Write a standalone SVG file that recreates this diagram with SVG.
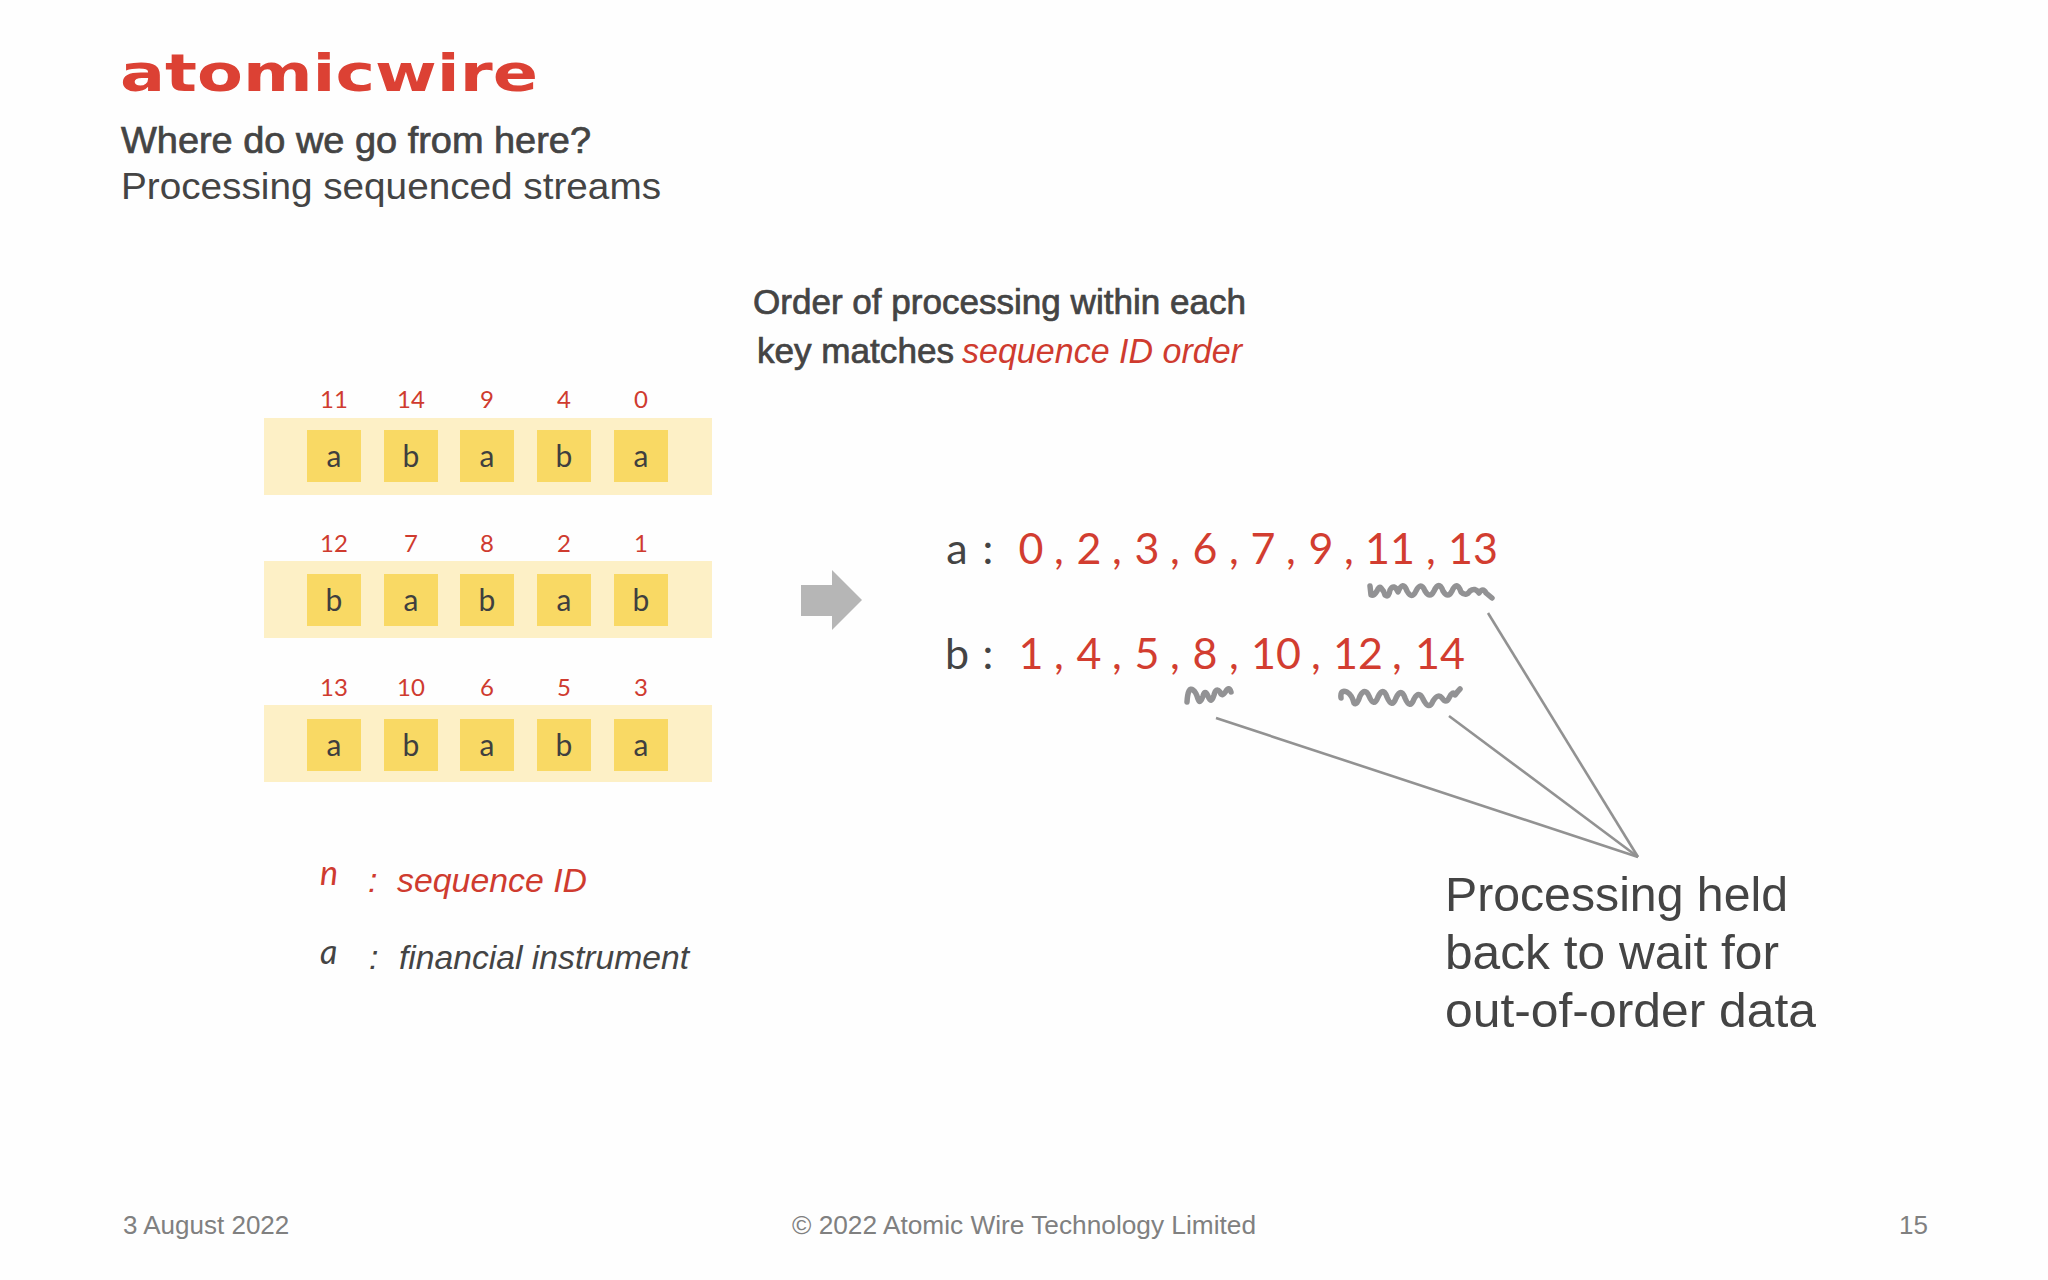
<svg xmlns="http://www.w3.org/2000/svg" width="2048" height="1280" viewBox="0 0 2048 1280">
<style>
.h{font-family:"Liberation Sans",Arial,sans-serif;fill:#444}
.c{font-family:Lato,"Open Sans",sans-serif}
.band{fill:#FDF0C6}
.sq{fill:#F9D964}
.id{font-size:24px;fill:#CF3B2F;text-anchor:middle}
.k{font-size:30px;fill:#3f3f3f;text-anchor:middle}
.seq{font-size:43px;fill:#D23D30;text-anchor:middle}
.lab{font-size:43px;fill:#444;text-anchor:middle}
.b{stroke:#444;stroke-width:.7px}
.it{font-style:italic}
.red{fill:#CF3B2F}
.foot{font-size:26px;fill:#808080}
.sq1{fill:none;stroke:#929294;stroke-width:5.5;stroke-linecap:round;stroke-linejoin:round}
.ln{fill:none;stroke:#929292;stroke-width:2.6}
</style>
<rect width="2048" height="1280" fill="#FEFEFE"/>
<g id="header">
<text x="120" y="91" font-family="'DejaVu Sans',sans-serif" font-weight="700" font-size="52" fill="#DC4134" textLength="418" lengthAdjust="spacingAndGlyphs">atomicwire</text>
<text class="h b" x="121" y="152.5" font-size="36.5" textLength="470" lengthAdjust="spacingAndGlyphs">Where do we go from here?</text>
<text class="h" x="121" y="199" font-size="36.5" textLength="540" lengthAdjust="spacingAndGlyphs">Processing sequenced streams</text>
</g>
<g id="order-note">
<text class="h b" x="753" y="314" font-size="34.5" textLength="493" lengthAdjust="spacingAndGlyphs">Order of processing within each</text>
<text class="h b" x="757" y="363" font-size="34.5" textLength="197" lengthAdjust="spacingAndGlyphs">key matches</text>
<text class="h it red" x="962" y="363" font-size="34.5" textLength="280" lengthAdjust="spacingAndGlyphs">sequence ID order</text>
</g>
<g id="stream-1">
<rect class="band" x="264" y="418" width="448" height="77"/>
<g class="sq"><rect x="307" y="430" width="54" height="52"/><rect x="384" y="430" width="54" height="52"/><rect x="460" y="430" width="54" height="52"/><rect x="537" y="430" width="54" height="52"/><rect x="614" y="430" width="54" height="52"/></g>
<g class="c id"><text x="334" y="408">11</text><text x="411" y="408">14</text><text x="487" y="408">9</text><text x="564" y="408">4</text><text x="641" y="408">0</text></g>
<g class="c k"><text x="334" y="467">a</text><text x="411" y="467">b</text><text x="487" y="467">a</text><text x="564" y="467">b</text><text x="641" y="467">a</text></g>
</g>
<g id="stream-2">
<rect class="band" x="264" y="561" width="448" height="77"/>
<g class="sq"><rect x="307" y="574" width="54" height="52"/><rect x="384" y="574" width="54" height="52"/><rect x="460" y="574" width="54" height="52"/><rect x="537" y="574" width="54" height="52"/><rect x="614" y="574" width="54" height="52"/></g>
<g class="c id"><text x="334" y="552">12</text><text x="411" y="552">7</text><text x="487" y="552">8</text><text x="564" y="552">2</text><text x="641" y="552">1</text></g>
<g class="c k"><text x="334" y="611">b</text><text x="411" y="611">a</text><text x="487" y="611">b</text><text x="564" y="611">a</text><text x="641" y="611">b</text></g>
</g>
<g id="stream-3">
<rect class="band" x="264" y="705" width="448" height="77"/>
<g class="sq"><rect x="307" y="719" width="54" height="52"/><rect x="384" y="719" width="54" height="52"/><rect x="460" y="719" width="54" height="52"/><rect x="537" y="719" width="54" height="52"/><rect x="614" y="719" width="54" height="52"/></g>
<g class="c id"><text x="334" y="696">13</text><text x="411" y="696">10</text><text x="487" y="696">6</text><text x="564" y="696">5</text><text x="641" y="696">3</text></g>
<g class="c k"><text x="334" y="756">a</text><text x="411" y="756">b</text><text x="487" y="756">a</text><text x="564" y="756">b</text><text x="641" y="756">a</text></g>
</g>
<g id="legend">
<text class="c it red" x="320" y="885" font-size="34">n</text>
<text class="h it red" x="368" y="892" font-size="34">:</text>
<text class="h it red" x="397" y="892" font-size="34" textLength="190" lengthAdjust="spacingAndGlyphs">sequence ID</text>
<text class="c it" x="320" y="964" font-size="34" fill="#444">a</text>
<text class="h it" x="369" y="969" font-size="34">:</text>
<text class="h it" x="399" y="969" font-size="34" textLength="290" lengthAdjust="spacingAndGlyphs">financial instrument</text>
</g>
<g id="result-a" class="c">
<text class="lab" x="957" y="564">a</text><text class="lab" x="988" y="564">:</text>
<g class="seq"><text x="1031" y="564">0</text><text x="1059" y="564">,</text><text x="1089" y="564">2</text><text x="1117" y="564">,</text><text x="1147" y="564">3</text><text x="1175" y="564">,</text><text x="1205" y="564">6</text><text x="1234" y="564">,</text><text x="1263" y="564">7</text><text x="1291" y="564">,</text><text x="1321" y="564">9</text><text x="1349" y="564">,</text><text x="1390" y="564">11</text><text x="1431" y="564">,</text><text x="1473" y="564">13</text></g>
</g>
<g id="result-b" class="c">
<text class="lab" x="957" y="669">b</text><text class="lab" x="988" y="669">:</text>
<g class="seq"><text x="1031" y="669">1</text><text x="1059" y="669">,</text><text x="1089" y="669">4</text><text x="1117" y="669">,</text><text x="1147" y="669">5</text><text x="1175" y="669">,</text><text x="1205" y="669">8</text><text x="1234" y="669">,</text><text x="1276" y="669">10</text><text x="1316" y="669">,</text><text x="1358" y="669">12</text><text x="1397" y="669">,</text><text x="1440" y="669">14</text></g>
</g>
<g id="note">
<text class="h" x="1445" y="911" font-size="48.5" textLength="343" lengthAdjust="spacingAndGlyphs">Processing held</text>
<text class="h" x="1445" y="969" font-size="48.5" textLength="334" lengthAdjust="spacingAndGlyphs">back to wait for</text>
<text class="h" x="1445" y="1027" font-size="48.5" textLength="371" lengthAdjust="spacingAndGlyphs">out-of-order data</text>
</g>
<g id="connectors">
<path id="arrow" d="M801 585H832V570L862 600L832 630V616H801Z" fill="#B6B6B6"/>
<path class="sq1" d="M1370 586L1371 595q3 1 6 -4q2 -5 4 -3q3 3 4 7q4 3 5 -5q4 -7 8 2q5 -12 9 -1q5 9 9 0q5 -10 9 0q5 8 9 0q5 -11 9 0q5 8 9 0q5 -11 9 1q5 5 9 -1q5 -4 9 2q4 -6 7 0l6 5"/>
<path class="sq1" d="M1187 702q1 -16 6 -12q3 2 5 9q2 6 5 -3q2 -7 5 0q3 9 6 -1q2 -8 6 -3q2 6 6 -1q3 -5 5 1"/>
<path class="sq1" d="M1341 698q-1 -9 6 -6q5 3 7 11q3 3 6 -7q5 -9 9 0q5 12 9 1q5 -11 9 0q5 12 9 1q5 -11 9 0q5 12 9 1q5 -9 9 0q6 12 10 2q5 -8 9 -3q4 6 7 0q4 -8 6 -3q3 -4 5 -6"/>
<path class="ln" d="M1488 613L1638 857"/>
<path class="ln" d="M1449 716L1638 857"/>
<path class="ln" d="M1216 718L1638 857"/>
</g>
<g id="footer" class="h">
<text class="foot" x="123" y="1234">3 August 2022</text>
<text class="foot" x="792" y="1234" textLength="464" lengthAdjust="spacingAndGlyphs">© 2022 Atomic Wire Technology Limited</text>
<text class="foot" x="1899" y="1234">15</text>
</g>
</svg>
